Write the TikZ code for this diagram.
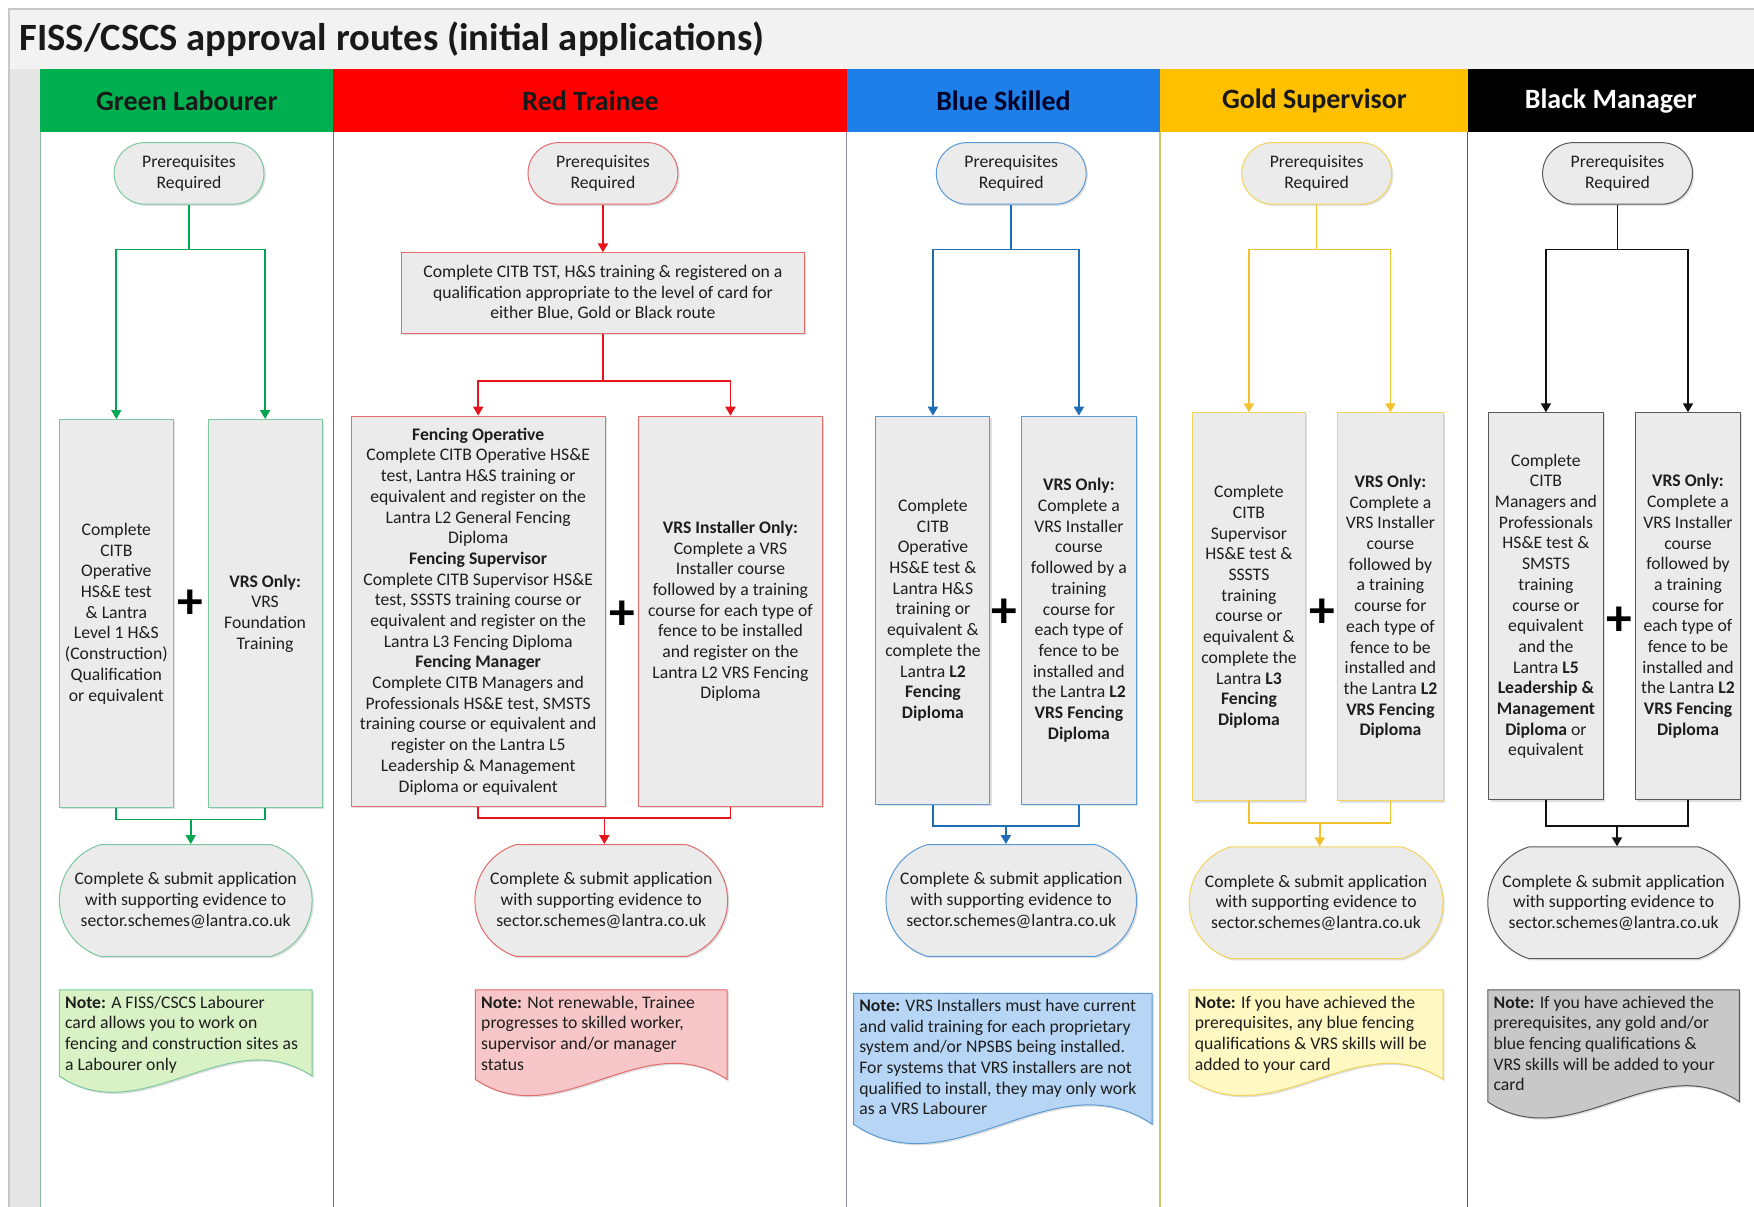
\documentclass[tikz,border=0pt]{standalone}
\usepackage{fontspec}
\setmainfont{Carlito}
\usetikzlibrary{arrows.meta,shapes.misc,shadows,calc}

\definecolor{titlebg}{HTML}{F2F2F2}
\definecolor{stripbg}{HTML}{E6E6E6}
\definecolor{framecol}{HTML}{C8C8C8}
\definecolor{hGreen}{HTML}{00B050}
\definecolor{hRed}{HTML}{FF0000}
\definecolor{hBlue}{HTML}{1E7FE8}
\definecolor{hGold}{HTML}{FFC000}
\definecolor{hBlack}{HTML}{000000}
\definecolor{lnGreen}{HTML}{00A651}
\definecolor{lnRed}{HTML}{E8141B}
\definecolor{lnBlue}{HTML}{1F6DB5}
\definecolor{lnGold}{HTML}{F2C12E}
\definecolor{lnBlack}{HTML}{111111}
\definecolor{bdGreen}{HTML}{7DC8A0}
\definecolor{bdRed}{HTML}{E36C6C}
\definecolor{bdBlue}{HTML}{5B9BD5}
\definecolor{bdGold}{HTML}{F2D45C}
\definecolor{bdBlack}{HTML}{595959}
\definecolor{boxfill}{HTML}{EBEBEB}
\definecolor{ntGreen}{HTML}{D8F2C6}
\definecolor{ntRed}{HTML}{F7C6C8}
\definecolor{ntBlue}{HTML}{B7D6F5}
\definecolor{ntGold}{HTML}{FFF8C2}
\definecolor{ntBlack}{HTML}{C8C8C8}
\definecolor{lbGreen}{HTML}{8FB8A0}
\definecolor{lbRed}{HTML}{E04040}
\definecolor{lbBlue}{HTML}{8C8CA8}
\definecolor{lbGold}{HTML}{CFC46A}
\definecolor{lbBlack}{HTML}{5A5A4A}
\definecolor{txt}{HTML}{1E1E1E}

\begin{document}
\begin{tikzpicture}[x=1pt,y=-1pt,
  body/.style={font=\fontsize{15.8}{18.5}\selectfont, text=txt, align=center, inner sep=0pt},
  shadowed/.style={drop shadow={shadow xshift=1.5pt, shadow yshift=-1.5pt, opacity=0.25}},
  procbox/.style={body, draw=#1, fill=boxfill, line width=0.9pt, shadowed},
  prereq/.style={body, rounded rectangle, draw=#1, fill=boxfill, line width=0.9pt,
    minimum width=134pt, minimum height=55pt, shadowed},
  termbox/.style={body, rounded rectangle, rounded rectangle arc length=146, draw=#1, fill=boxfill,
    line width=0.9pt, minimum width=226pt, minimum height=100pt, shadowed},
  notebox/.style={line width=0.9pt, shadowed},
  notetext/.style={body, align=left, anchor=north west},
  hdr/.style={font=\fontsize{25}{28}\selectfont\bfseries, text=black!90},
  plussign/.style={font=\fontsize{46}{46}\selectfont\bfseries, text=black, inner sep=0pt},
  conn/.style={line width=1.5pt, draw=#1},
  arr/.style={-{Triangle[width=9pt,length=8pt]}}
]
\useasboundingbox (0,0) rectangle (1568,1079);
\fill[white] (0,0) rectangle (1568,1079);
\fill[titlebg] (8,8) rectangle (1568,62);
\fill[stripbg] (8,62) rectangle (36,1079);
\draw[framecol, line width=1pt] (8,1079) -- (8,8) -- (1568,8);
\node[font=\fontsize{34.5}{38}\selectfont\bfseries, text=black!90, anchor=west] (title) at (14,35) {FISS/CSCS approval routes (initial applications)};

% headers
\fill[hGreen] (36,62) rectangle (298,118);
\fill[hRed] (298,62) rectangle (757,118);
\fill[hBlue] (757,62) rectangle (1037,118);
\fill[hGold] (1037,62) rectangle (1312,118);
\fill[hBlack] (1312,62) rectangle (1568,118);
\node[hdr] (hG) at (167,90) {Green Labourer};
\node[hdr] (hR) at (528,90) {Red Trainee};
\node[hdr, text=black!85!blue] (hB) at (897,90) {Blue Skilled};
\node[hdr] (hO) at (1175,90) {Gold Supervisor};
\node[hdr, text=white] (hK) at (1440,90) {Black Manager};

% lane borders
\draw[lbGreen, line width=1.2pt] (36,118) -- (36,1079);
\draw[lbRed, line width=1.2pt] (298,118) -- (298,1079);
\draw[lbBlue, line width=1.2pt] (757,118) -- (757,1079);
\draw[lbGold, line width=1.2pt] (1037,118) -- (1037,1079);
\draw[lbBlack, line width=1.2pt] (1312,118) -- (1312,1079);

%%%%%%%% GREEN
\node[prereq=bdGreen] (gp) at (169,155) {Prerequisites\\Required};
\node[procbox=bdGreen, minimum width=102pt, minimum height=347pt] (gb1) at (104,548.5)
  {Complete\\CITB\\Operative\\HS\&E test\\\& Lantra\\Level 1 H\&S\\(Construction)\\Qualification\\or equivalent};
\node[procbox=bdGreen, minimum width=102pt, minimum height=347pt] (gb2) at (237,548.5)
  {\textbf{VRS Only:}\\VRS\\Foundation\\Training};
\node[plussign] (gplus) at (170,540) {+};
\node[termbox=bdGreen] (gt) at (166,805) {Complete \& submit application\\with supporting evidence to\\sector.schemes@lantra.co.uk};
\path[notebox, draw=bdGreen, fill=ntGreen] (53,885) -- (279,885) -- (279,962) .. controls (203.7,912) and (128.3,1012) .. (53,962) -- cycle;
\node[notetext] (gnote) at (58,890) {\textbf{Note:} A FISS/CSCS Labourer\\card allows you to work on\\fencing and construction sites as\\a Labourer only};
\draw[conn=lnGreen] (gp.south) -- ++(0,40) coordinate (gs);
\draw[conn=lnGreen, arr] (gs) -| (gb1.north);
\draw[conn=lnGreen, arr] (gs) -| (gb2.north);
\draw[conn=lnGreen] (gb1.south) -- ++(0,10) -| (gb2.south);
\coordinate (gj) at ($(gb1.south)!0.5!(gb2.south)+(0,10)$);
\draw[conn=lnGreen, arr] (gj) -- (gj |- gt.north);

%%%%%%%% RED
\node[prereq=bdRed] (rp) at (539,155) {Prerequisites\\Required};
\node[procbox=bdRed, minimum width=360pt, minimum height=72pt] (rtop) at (539,262)
  {Complete CITB TST, H\&S training \& registered on a\\qualification appropriate to the level of card for\\either Blue, Gold or Black route};
\node[procbox=bdRed, minimum width=227pt, minimum height=349pt] (rb1) at (427.5,546.5)
  {\textbf{Fencing Operative}\\Complete CITB Operative HS\&E\\test, Lantra H\&S training or\\equivalent and register on the\\Lantra L2 General Fencing\\Diploma\\
   \textbf{Fencing Supervisor}\\Complete CITB Supervisor HS\&E\\test, SSSTS training course or\\equivalent and register on the\\Lantra L3 Fencing Diploma\\
   \textbf{Fencing Manager}\\Complete CITB Managers and\\Professionals HS\&E test, SMSTS\\training course or equivalent and\\register on the Lantra L5\\Leadership \& Management\\Diploma or equivalent};
\node[procbox=bdRed, minimum width=164pt, minimum height=349pt] (rb2) at (653,546.5)
  {\textbf{VRS Installer Only:}\\Complete a VRS\\Installer course\\followed by a training\\course for each type of\\fence to be installed\\and register on the\\Lantra L2 VRS Fencing\\Diploma};
\node[plussign] (rplus) at (556,550) {+};
\node[termbox=bdRed] (rt) at (537.5,805) {Complete \& submit application\\with supporting evidence to\\sector.schemes@lantra.co.uk};
\path[notebox, draw=bdRed, fill=ntRed] (425,885) -- (650,885) -- (650,965) .. controls (575,915) and (500,1015) .. (425,965) -- cycle;
\node[notetext] (rnote) at (430,890) {\textbf{Note:} Not renewable, Trainee\\progresses to skilled worker,\\supervisor and/or manager\\status};
\draw[conn=lnRed, arr] (rp.south) -- (rtop.north);
\draw[conn=lnRed] (rtop.south) -- ++(0,42) coordinate (rs);
\draw[conn=lnRed, arr] (rs) -| (rb1.north);
\draw[conn=lnRed, arr] (rs) -| (rb2.north);
\draw[conn=lnRed] (rb1.south) -- ++(0,10) -| (rb2.south);
\coordinate (rj) at ($(rb1.south)!0.5!(rb2.south)+(0,10)$);
\draw[conn=lnRed, arr] (rj) -- (rj |- rt.north);

%%%%%%%% BLUE
\node[prereq=bdBlue] (bp) at (904,155) {Prerequisites\\Required};
\node[procbox=bdBlue, minimum width=102pt, minimum height=347pt] (bb1) at (834,545.5)
  {Complete\\CITB\\Operative\\HS\&E test \&\\Lantra H\&S\\training or\\equivalent \&\\complete the\\Lantra \textbf{L2}\\\textbf{Fencing}\\\textbf{Diploma}};
\node[procbox=bdBlue, minimum width=103pt, minimum height=347pt] (bb2) at (964.5,545.5)
  {\textbf{VRS Only:}\\Complete a\\VRS Installer\\course\\followed by a\\training\\course for\\each type of\\fence to be\\installed and\\the Lantra \textbf{L2}\\\textbf{VRS Fencing}\\\textbf{Diploma}};
\node[plussign] (bplus) at (898,548) {+};
\node[termbox=bdBlue, minimum width=224pt] (bt) at (904,805) {Complete \& submit application\\with supporting evidence to\\sector.schemes@lantra.co.uk};
\path[notebox, draw=bdBlue, fill=ntBlue] (763,888) -- (1030,888) -- (1030,1005) .. controls (941,945) and (852,1065) .. (763,1005) -- cycle;
\node[notetext] (bnote) at (768,893) {\textbf{Note:} VRS Installers must have current\\and valid training for each proprietary\\system and/or NPSBS being installed.\\For systems that VRS installers are not\\qualified to install, they may only work\\as a VRS Labourer};
\draw[conn=lnBlue] (bp.south) -- ++(0,40) coordinate (bs);
\draw[conn=lnBlue, arr] (bs) -| (bb1.north);
\draw[conn=lnBlue, arr] (bs) -| (bb2.north);
\draw[conn=lnBlue] (bb1.south) -- ++(0,19) -| (bb2.south);
\coordinate (bj) at ($(bb1.south)!0.5!(bb2.south)+(0,19)$);
\draw[conn=lnBlue, arr] (bj) -- (bj |- bt.north);

%%%%%%%% GOLD
\node[prereq=bdGold] (op) at (1177,155) {Prerequisites\\Required};
\node[procbox=bdGold, minimum width=101pt, minimum height=347pt] (ob1) at (1116.5,542.5)
  {Complete\\CITB\\Supervisor\\HS\&E test \&\\SSSTS\\training\\course or\\equivalent \&\\complete the\\Lantra \textbf{L3}\\\textbf{Fencing}\\\textbf{Diploma}};
\node[procbox=bdGold, minimum width=94pt, minimum height=347pt] (ob2) at (1243,542.5)
  {\textbf{VRS Only:}\\Complete a\\VRS Installer\\course\\followed by\\a training\\course for\\each type of\\fence to be\\installed and\\the Lantra \textbf{L2}\\\textbf{VRS Fencing}\\\textbf{Diploma}};
\node[plussign] (oplus) at (1182,548) {+};
\node[termbox=bdGold, minimum width=227pt] (ot) at (1176.5,807) {Complete \& submit application\\with supporting evidence to\\sector.schemes@lantra.co.uk};
\path[notebox, draw=bdGold, fill=ntGold] (1063,885) -- (1290,885) -- (1290,965) .. controls (1214.3,915) and (1138.7,1015) .. (1063,965) -- cycle;
\node[notetext] (onote) at (1068,890) {\textbf{Note:} If you have achieved the\\prerequisites, any blue fencing\\qualifications \& VRS skills will be\\added to your card};
\draw[conn=lnGold] (op.south) -- ++(0,40) coordinate (os);
\draw[conn=lnGold, arr] (os) -| (ob1.north);
\draw[conn=lnGold, arr] (os) -| (ob2.north);
\draw[conn=lnGold] (ob1.south) -- ++(0,19) -| (ob2.south);
\coordinate (oj) at ($(ob1.south)!0.5!(ob2.south)+(0,19)$);
\draw[conn=lnGold, arr] (oj) -- (oj |- ot.north);

%%%%%%%% BLACK
\node[prereq=bdBlack] (kp) at (1446,155) {Prerequisites\\Required};
\node[procbox=bdBlack, minimum width=102pt, minimum height=346pt] (kb1) at (1382,542)
  {Complete\\CITB\\Managers and\\Professionals\\HS\&E test \&\\SMSTS\\training\\course or\\equivalent\\and the\\Lantra \textbf{L5}\\\textbf{Leadership \&}\\\textbf{Management}\\\textbf{Diploma} or\\equivalent};
\node[procbox=bdBlack, minimum width=94pt, minimum height=346pt] (kb2) at (1509,542)
  {\textbf{VRS Only:}\\Complete a\\VRS Installer\\course\\followed by\\a training\\course for\\each type of\\fence to be\\installed and\\the Lantra \textbf{L2}\\\textbf{VRS Fencing}\\\textbf{Diploma}};
\node[plussign] (kplus) at (1448,555) {+};
\node[termbox=bdBlack, minimum width=225pt] (kt) at (1442.5,807) {Complete \& submit application\\with supporting evidence to\\sector.schemes@lantra.co.uk};
\path[notebox, draw=bdBlack, fill=ntBlack] (1330,885) -- (1555,885) -- (1555,985) .. controls (1480,935) and (1405,1035) .. (1330,985) -- cycle;
\node[notetext] (knote) at (1335,890) {\textbf{Note:} If you have achieved the\\prerequisites, any gold and/or\\blue fencing qualifications \&\\VRS skills will be added to your\\card};
\draw[conn=lnBlack] (kp.south) -- ++(0,40) coordinate (ks);
\draw[conn=lnBlack, arr] (ks) -| (kb1.north);
\draw[conn=lnBlack, arr] (ks) -| (kb2.north);
\draw[conn=lnBlack] (kb1.south) -- ++(0,23) -| (kb2.south);
\coordinate (kj) at ($(kb1.south)!0.5!(kb2.south)+(0,23)$);
\draw[conn=lnBlack, arr] (kj) -- (kj |- kt.north);
\end{tikzpicture}
\end{document}
